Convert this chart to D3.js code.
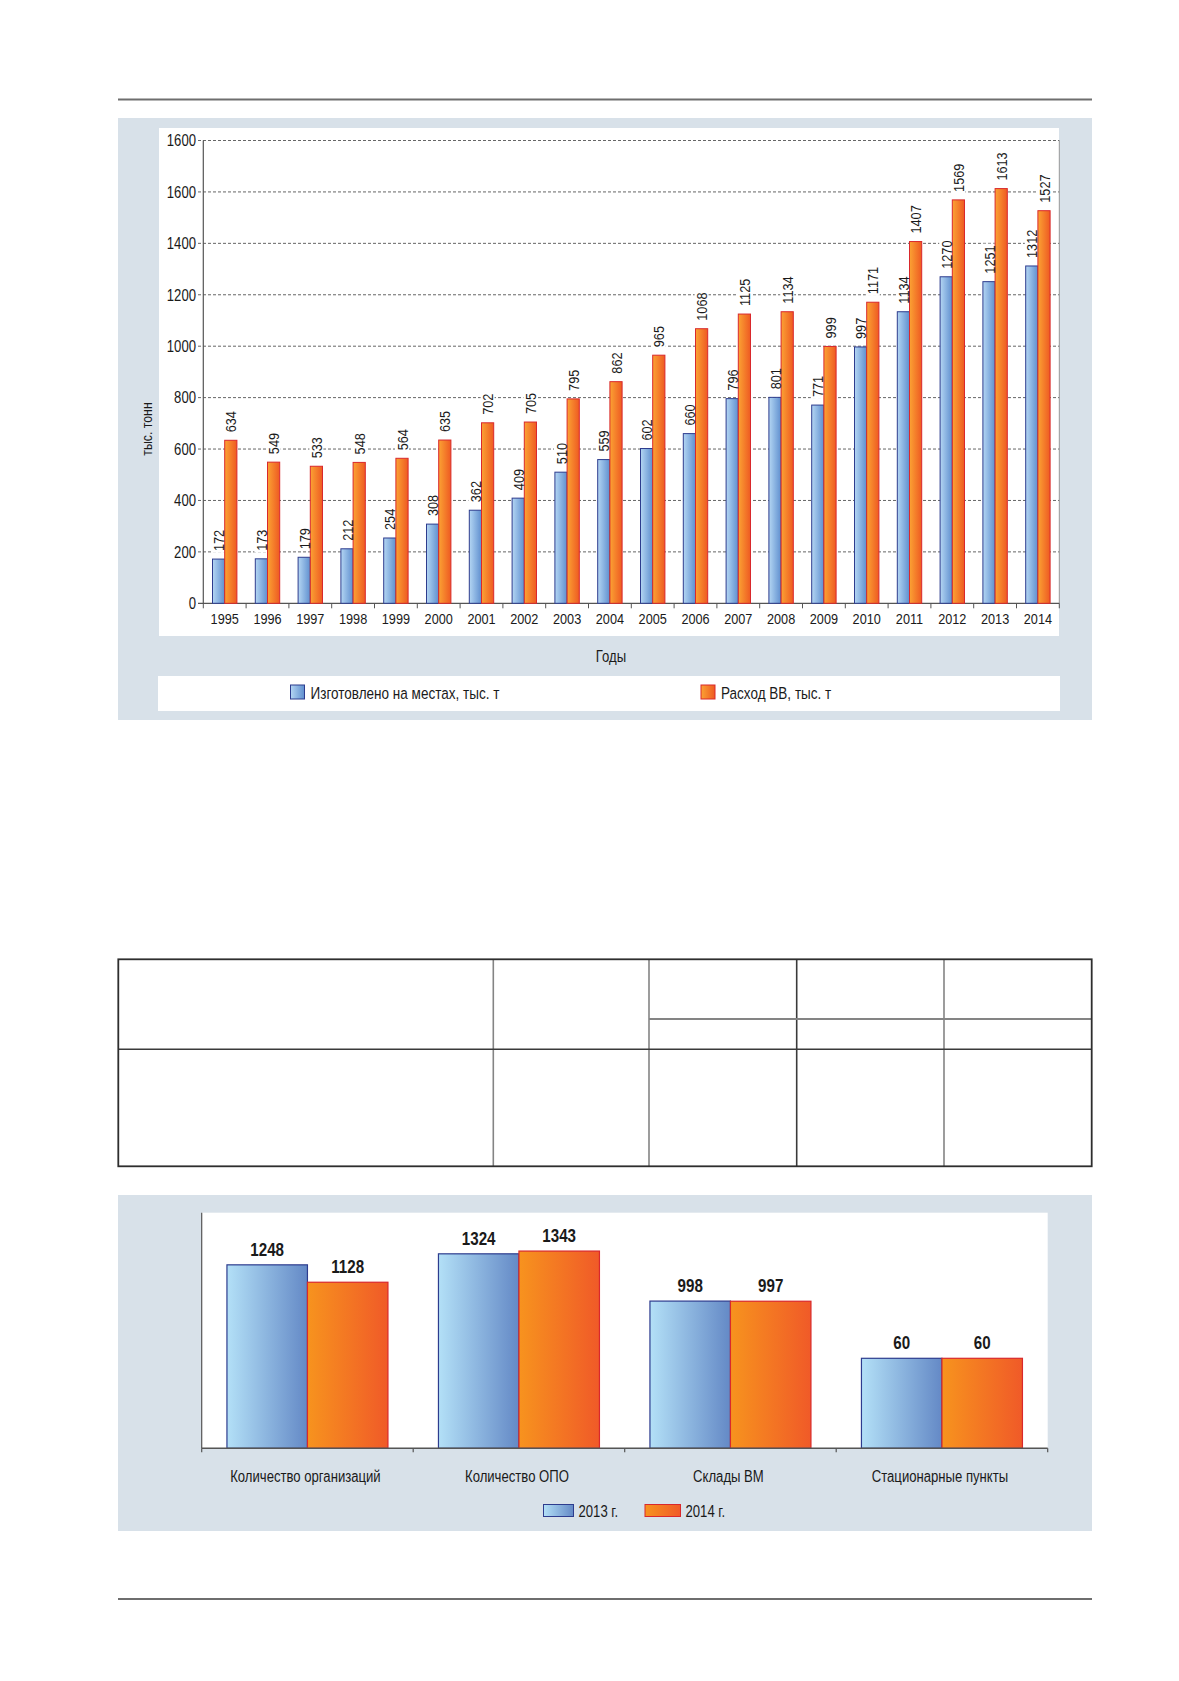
<!DOCTYPE html>
<html>
<head>
<meta charset="utf-8">
<script src="https://cdn.jsdelivr.net/npm/d3@7"></script>
<style>
  body { margin: 0; background: #fff; }
  svg { display: block; }
  text { font-family: "Liberation Sans", Arial, sans-serif; fill: #1a1a1a; }
  .val2 { font-weight: bold; }
</style>
</head>
<body>
<svg width="1179" height="1681"></svg>
<script>
// chart 1: data
const years = ['1995','1996','1997','1998','1999','2000','2001','2002','2003','2004',
  '2005','2006','2007','2008','2009','2010','2011','2012','2013','2014']
const madeOnSite = [172,173,179,212,254,308,362,409,510,559,602,660,796,801,771,997,1134,1270,1251,1312]
const consumption = [634,549,533,548,564,635,702,705,795,862,965,1068,1125,1134,999,1171,1407,1569,1613,1527]
const yTicks = [0,200,400,600,800,1000,1200,1400,1600,1800]
// the original prints "1600" on the top line as well
const yTickLabels = ['0','200','400','600','800','1000','1200','1400','1600','1600']
const legend1 = ['Изготовлено на местах, тыс. т', 'Расход ВВ, тыс. т']

// chart 2: data
const categories = ['Количество организаций','Количество ОПО','Склады ВМ','Стационарные пункты']
const y2013 = [1248,1324,998,60]
const y2014 = [1128,1343,997,60]
const legend2 = ['2013 г.', '2014 г.']

// no condensed font installed -> squeeze Liberation Sans horizontally
const SQ = 0.82
const place = (x, y, rot) => `translate(${x}, ${y})${rot ? ' rotate(-90)' : ''} scale(${SQ}, 1)`

const svg = d3.select('svg')
const defs = svg.append('defs')

// horizontal gradients for the bars
function gradient(id, from, to) {
  const g = defs.append('linearGradient').attr('id', id)
    .attr('x1', 0).attr('x2', 1).attr('y1', 0).attr('y2', 0)
  g.append('stop').attr('offset', '0%').attr('stop-color', from)
  g.append('stop').attr('offset', '100%').attr('stop-color', to)
}
gradient('blue1', '#b4d6f3', '#5f8fcf')
gradient('orange1', '#fba233', '#ee5a22')
gradient('blue2', '#b3e0f7', '#6489c6')
gradient('orange2', '#f7931e', '#f05a28')

const blueStroke = '#2d3c8e'
const orangeStroke = '#d9282c'

// page rules
svg.append('line').attr('x1', 118).attr('x2', 1092).attr('y1', 99.5).attr('y2', 99.5)
  .style('stroke', '#6e6e6e').style('stroke-width', 2)
svg.append('line').attr('x1', 118).attr('x2', 1092).attr('y1', 1599).attr('y2', 1599)
  .style('stroke', '#6e6e6e').style('stroke-width', 2)

// ---------- chart 1 ----------
svg.append('rect').attr('x', 118).attr('y', 118).attr('width', 974).attr('height', 602).style('fill', '#d8e1e9')
svg.append('rect').attr('x', 159).attr('y', 128).attr('width', 900).attr('height', 508).style('fill', '#fff')
svg.append('rect').attr('x', 158).attr('y', 676).attr('width', 902).attr('height', 35).style('fill', '#fff')

const x1 = d3.scaleBand().domain(years).range([203.3, 1059.3])
const y1 = d3.scaleLinear().domain([0, 1800]).range([603.3, 140.5])
const barW = 12.2

const c1 = svg.append('g')

// dashed gridlines
c1.selectAll('line.grid')
  .data(yTicks.slice(1))
  .enter()
  .append('line')
  .attr('class', 'grid')
  .attr('x1', 198).attr('x2', 1059.3)
  .attr('y1', d => y1(d)).attr('y2', d => y1(d))
  .style('stroke', '#555').style('stroke-width', 0.9).style('stroke-dasharray', '3,2')

// white patches behind the value labels go between gridlines and bars
const labelBg = c1.append('g')

c1.selectAll('text.ytick')
  .data(yTicks)
  .enter()
  .append('text')
  .attr('class', 'ytick')
  .attr('transform', d => place(196, y1(d) + 5.8))
  .attr('text-anchor', 'end')
  .style('font-size', '16px')
  .text((d, i) => yTickLabels[i])

// axes lines
c1.append('line').attr('x1', 203.3).attr('x2', 203.3).attr('y1', y1(1800)).attr('y2', y1(0))
  .style('stroke', '#555').style('stroke-width', 1.2)
c1.append('line').attr('x1', 1059.3).attr('x2', 1059.3).attr('y1', y1(1800)).attr('y2', y1(0))
  .style('stroke', '#999').style('stroke-width', 1)
c1.append('line').attr('x1', 198).attr('x2', 1059.3).attr('y1', y1(0)).attr('y2', y1(0))
  .style('stroke', '#555').style('stroke-width', 1.2)

// x ticks at band boundaries
c1.selectAll('line.xtick')
  .data(years.concat(['end']))
  .enter()
  .append('line')
  .attr('class', 'xtick')
  .attr('x1', (d, i) => x1.range()[0] + i * x1.bandwidth())
  .attr('x2', (d, i) => x1.range()[0] + i * x1.bandwidth())
  .attr('y1', y1(0)).attr('y2', y1(0) + 5)
  .style('stroke', '#555').style('stroke-width', 1)

c1.selectAll('text.year')
  .data(years)
  .enter()
  .append('text')
  .attr('class', 'year')
  .attr('transform', d => place(x1(d) + x1.bandwidth() / 2, 623.5))
  .attr('text-anchor', 'middle')
  .style('font-size', '15.5px')
  .text(d => d)

// bars
const groups = c1.selectAll('g.year')
  .data(years)
  .enter()
  .append('g')
  .attr('class', 'year')
  .attr('transform', d => `translate(${x1(d) + x1.bandwidth() / 2}, 0)`)

groups.append('rect')
  .attr('x', -barW).attr('width', barW)
  .attr('y', (d, i) => y1(madeOnSite[i]))
  .attr('height', (d, i) => y1(0) - y1(madeOnSite[i]))
  .style('fill', 'url(#blue1)').style('stroke', blueStroke).style('stroke-width', 1)

groups.append('rect')
  .attr('x', 0).attr('width', barW)
  .attr('y', (d, i) => y1(consumption[i]))
  .attr('height', (d, i) => y1(0) - y1(consumption[i]))
  .style('fill', 'url(#orange1)').style('stroke', orangeStroke).style('stroke-width', 1)

// rotated value labels
groups.append('text')
  .attr('class', 'val1')
  .attr('transform', (d, i) => place(-barW / 2 + 5.5, y1(madeOnSite[i]) - 8, true))
  .style('font-size', '15.5px')
  .text((d, i) => madeOnSite[i])

groups.append('text')
  .attr('class', 'val1')
  .attr('transform', (d, i) => place(barW / 2 + 5.5, y1(consumption[i]) - 8, true))
  .style('font-size', '15.5px')
  .text((d, i) => consumption[i])

// cut the dashed gridlines behind every label, as in the original
groups.each(function (d) {
  const gx = x1(d) + x1.bandwidth() / 2
  d3.select(this).selectAll('text.val1').each(function () {
    const b = this.getBBox()
    labelBg.append('rect')
      .attr('transform', `translate(${gx}, 0) ` + this.getAttribute('transform'))
      .attr('x', b.x - 2).attr('y', -12.5)
      .attr('width', b.width + 4).attr('height', 14)
      .style('fill', '#fff')
  })
})

// axis titles
c1.append('text')
  .attr('transform', place(152, 429, true))
  .attr('text-anchor', 'middle')
  .style('font-size', '15px')
  .text('тыс. тонн')
c1.append('text')
  .attr('transform', place(611, 662))
  .attr('text-anchor', 'middle')
  .style('font-size', '16px')
  .text('Годы')

// legend 1
const leg1 = [{ x: 290.5, fill: 'url(#blue1)', stroke: blueStroke }, { x: 701, fill: 'url(#orange1)', stroke: orangeStroke }]
leg1.forEach((l, i) => {
  c1.append('rect').attr('x', l.x).attr('y', 685).attr('width', 14).attr('height', 14)
    .style('fill', l.fill).style('stroke', l.stroke).style('stroke-width', 1)
  c1.append('text').attr('transform', place(l.x + 20, 698.5)).style('font-size', '16.5px').text(legend1[i])
})

// ---------- table (empty frame) ----------
const tbl = svg.append('g')
const colX = [493.3, 649, 796.7, 944]
const colDark = [false, false, true, false]
colX.forEach((x, i) => {
  tbl.append('line').attr('x1', x).attr('x2', x).attr('y1', 959.3).attr('y2', 1166.3)
    .style('stroke', colDark[i] ? '#3a3a3a' : '#848484').style('stroke-width', 1.6)
})
tbl.append('line').attr('x1', 649).attr('x2', 1091.7).attr('y1', 1019).attr('y2', 1019)
  .style('stroke', '#848484').style('stroke-width', 2.2)
tbl.append('line').attr('x1', 118.3).attr('x2', 1091.7).attr('y1', 1049.3).attr('y2', 1049.3)
  .style('stroke', '#3a3a3a').style('stroke-width', 1.6)
tbl.append('rect').attr('x', 118.3).attr('y', 959.3).attr('width', 973.4).attr('height', 207)
  .style('fill', 'none').style('stroke', '#2e2e2e').style('stroke-width', 1.8)

// ---------- chart 2 ----------
svg.append('rect').attr('x', 118).attr('y', 1195).attr('width', 974).attr('height', 336).style('fill', '#d8e1e9')
svg.append('rect').attr('x', 201.7).attr('y', 1212.7).attr('width', 846).attr('height', 235.6).style('fill', '#fff')

const x2 = d3.scaleBand().domain(categories).range([201.7, 1047.7])
// the original draws the small values taller than a linear scale would, so the scale is piecewise
const base2 = 1448.3
const h2 = d3.scaleLinear().domain([0, 60, 900, 1400]).range([0, 90, 133, 205.5])
const barW2 = 80.5

const c2 = svg.append('g')

const cat = c2.selectAll('g.cat')
  .data(categories)
  .enter()
  .append('g')
  .attr('class', 'cat')
  .attr('transform', d => `translate(${x2(d) + x2.bandwidth() / 2}, 0)`)

cat.append('rect')
  .attr('x', -barW2).attr('width', barW2)
  .attr('y', (d, i) => base2 - h2(y2013[i]))
  .attr('height', (d, i) => h2(y2013[i]))
  .style('fill', 'url(#blue2)').style('stroke', blueStroke).style('stroke-width', 1.2)

cat.append('rect')
  .attr('x', 0).attr('width', barW2)
  .attr('y', (d, i) => base2 - h2(y2014[i]))
  .attr('height', (d, i) => h2(y2014[i]))
  .style('fill', 'url(#orange2)').style('stroke', orangeStroke).style('stroke-width', 1.2)

cat.append('text')
  .attr('class', 'val2')
  .attr('transform', (d, i) => place(-barW2 / 2, base2 - h2(y2013[i]) - 9))
  .attr('text-anchor', 'middle')
  .style('font-size', '18.5px')
  .text((d, i) => y2013[i])

cat.append('text')
  .attr('class', 'val2')
  .attr('transform', (d, i) => place(barW2 / 2, base2 - h2(y2014[i]) - 9))
  .attr('text-anchor', 'middle')
  .style('font-size', '18.5px')
  .text((d, i) => y2014[i])

cat.append('text')
  .attr('transform', place(-2, 1481.5))
  .attr('text-anchor', 'middle')
  .style('font-size', '16px')
  .text(d => d)

// axes
c2.append('line').attr('x1', 201.7).attr('x2', 201.7).attr('y1', 1212.7).attr('y2', base2)
  .style('stroke', '#555').style('stroke-width', 1.2)
c2.append('line').attr('x1', 201.7).attr('x2', 1047.7).attr('y1', base2).attr('y2', base2)
  .style('stroke', '#555').style('stroke-width', 1.4)
c2.selectAll('line.tick2')
  .data(categories.concat(['end']))
  .enter()
  .append('line')
  .attr('class', 'tick2')
  .attr('x1', (d, i) => x2.range()[0] + i * x2.bandwidth())
  .attr('x2', (d, i) => x2.range()[0] + i * x2.bandwidth())
  .attr('y1', base2).attr('y2', base2 + 4)
  .style('stroke', '#555').style('stroke-width', 1.2)

// legend 2
const leg2 = [{ x: 543.5, fill: 'url(#blue2)', stroke: blueStroke }, { x: 645, fill: 'url(#orange2)', stroke: orangeStroke }]
leg2.forEach((l, i) => {
  c2.append('rect').attr('x', l.x).attr('y', 1504.5).attr('width', i ? 35.5 : 30).attr('height', 12)
    .style('fill', l.fill).style('stroke', l.stroke).style('stroke-width', 1)
  c2.append('text').attr('transform', place(l.x + (i ? 40.5 : 35), 1516.5)).style('font-size', '16px').text(legend2[i])
})
</script>
</body>
</html>
